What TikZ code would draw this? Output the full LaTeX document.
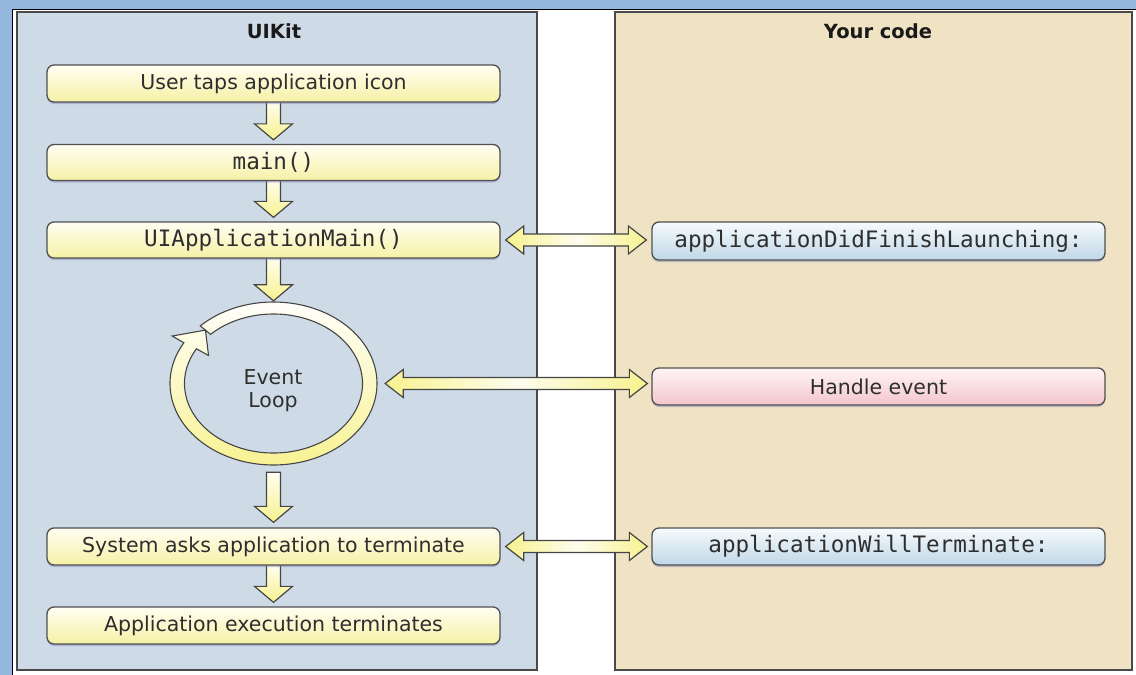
\documentclass[tikz,border=0pt]{standalone}
\usepackage{fontspec}
\setmainfont{DejaVu Sans}
\setmonofont{DejaVu Sans Mono}
\usetikzlibrary{calc,shadows,shapes.geometric}

\definecolor{frameblue}{HTML}{93B7DD}
\definecolor{kitfill}{HTML}{CEDBE7}
\definecolor{codefill}{HTML}{EFE3C3}
\definecolor{panelline}{HTML}{4A4A4A}
\definecolor{boxline}{HTML}{505050}
\definecolor{arrowline}{HTML}{454545}
\definecolor{ink}{HTML}{2E2E2E}
\definecolor{paleyellow}{HTML}{F6F1A6}
\definecolor{lightyellow}{HTML}{FFFEF2}
\definecolor{paleblue}{HTML}{BFD7E7}
\definecolor{lightblue}{HTML}{F7FBFD}
\definecolor{palepink}{HTML}{F3C6CC}
\definecolor{lightpink}{HTML}{FFF4F5}
\definecolor{arrowyellow}{HTML}{F7F28E}
\definecolor{shadowviolet}{HTML}{8080B8}

\pgfdeclarelayer{back}
\pgfdeclarelayer{arrows}
\pgfsetlayers{back,arrows,main}

\tikzset{
  panel/.style={draw=panelline, line width=2.5pt, inner sep=0pt},
  title/.style={font=\fontsize{19.5}{22}\selectfont\bfseries, text=black!90},
  stepbox/.style={draw=boxline, line width=1.3pt, rounded corners=7pt,
    minimum width=453pt, minimum height=37pt, inner sep=0pt, text=ink,
    font=\fontsize{20.5}{24}\selectfont,
    drop shadow={shadow xshift=0pt, shadow yshift=-2pt, fill=shadowviolet, opacity=0.45}},
  yellowbox/.style={stepbox, top color=lightyellow, bottom color=paleyellow},
  bluebox/.style={stepbox, top color=lightblue, bottom color=paleblue},
  pinkbox/.style={stepbox, top color=lightpink, bottom color=palepink},
  codetext/.style={font=\ttfamily\fontsize{22.6}{26}\selectfont},
  blockarrow/.style={draw=arrowline, line width=1.2pt, line join=miter},
}

% vertical block arrow: from, to, gap below start, gap above end
\newcommand\vblock[4]{%
  \path[blockarrow, top color=lightyellow, bottom color=arrowyellow]
    let \p1=(#1), \p2=(#2) in
    (\x1-7,\y1-#3) -- (\x1+7,\y1-#3) -- (\x1+7,\y2+#4+16) -- (\x1+19,\y2+#4+16)
    -- (\x1,\y2+#4) -- (\x1-19,\y2+#4+16) -- (\x1-7,\y2+#4+16) -- cycle;}

% horizontal double block arrow: from, to, gap at start, gap at end
\newcommand\hblock[4]{%
  \path[blockarrow, left color=arrowyellow, right color=arrowyellow, middle color=white!85!arrowyellow]
    let \p1=(#1), \p2=(#2) in
    (\x1+#3,\y1) -- (\x1+#3+18,\y1+14) -- (\x1+#3+18,\y1+6) -- (\x2-#4-18,\y1+6)
    -- (\x2-#4-18,\y1+14) -- (\x2-#4,\y1) -- (\x2-#4-18,\y1-14) -- (\x2-#4-18,\y1-6)
    -- (\x1+#3+18,\y1-6) -- (\x1+#3+18,\y1-14) -- cycle;}

\begin{document}
\begin{tikzpicture}[x=1pt, y=1pt]
\useasboundingbox (0,0) rectangle (1136,-675);

\begin{pgfonlayer}{back}
% window frame
\fill[frameblue] (0,0) rectangle (1136,-675);
\fill[white] (12.5,-9.5) rectangle (1136,-675);
\draw[black, line width=1.8pt] (12.5,-675) -- (12.5,-9.5) -- (1136,-9.5);
% the two panels
\node (uikit) [panel, fill=kitfill, minimum width=520pt, minimum height=658pt] at (277,-341) {};
\node (yourcode) [panel, fill=codefill, minimum width=517pt, minimum height=658pt] at (873.5,-341) {};
\end{pgfonlayer}
\node (kittitle) [title] at (274,-31) {UIKit};
\node (codetitle) [title] at (878,-31) {Your code};

% UIKit steps
\node (tap) [yellowbox] at (273.5,-83.5) {User taps application icon};
\node (mainfn) [yellowbox, codetext, minimum height=36pt] at (273.5,-162.5) {main()};
\node (appmain) [yellowbox, codetext, minimum height=36pt] at (273.5,-240) {UIApplicationMain()};
\node (askterm) [yellowbox] at (273.5,-546.5) {System asks application to terminate};
\node (exitapp) [yellowbox] at (273.5,-625.5) {Application execution terminates};

% your code
\node (didfinish) [bluebox, codetext, minimum height=38pt] at (878.5,-241) {applicationDidFinishLaunching:};
\node (handle) [pinkbox] at (878.5,-386.5) {Handle event};
\node (willterm) [bluebox, codetext] at (878.5,-546.5) {applicationWillTerminate:};

% event loop ring
\node (loop) [ellipse, minimum width=207pt, minimum height=163pt, inner sep=0pt] at (273.5,-383.5) {};
\path[draw=arrowline, line width=1.1pt, line join=miter, top color=white, bottom color=arrowyellow]
  ($(loop.center)+(135:103.5pt and 81.5pt)$)
  arc[start angle=135, end angle=-210, x radius=103.5pt, y radius=81.5pt]
  -- ($(loop.center)+(150:117pt and 95pt)$)
  -- ($(loop.center)+(135:96.25pt and 75.5pt)$)
  -- ($(loop.center)+(150:75pt and 56pt)$)
  -- ($(loop.center)+(150:89pt and 69.5pt)$)
  arc[start angle=-210, end angle=135, x radius=89pt, y radius=69.5pt]
  -- cycle;
\node (looptext) [align=center, text=ink, font=\fontsize{20.5}{23}\selectfont] at (273,-391) {Event\\Loop};

% flow arrows
\begin{pgfonlayer}{arrows}
\vblock{tap.south}{mainfn.north}{-2}{4}
\vblock{mainfn.south}{appmain.north}{-2}{4}
\vblock{appmain.south}{loop.north}{-2}{1}
\vblock{loop.south}{askterm.north}{7}{5}
\vblock{askterm.south}{exitapp.north}{-2}{4}
\end{pgfonlayer}

% calls between UIKit and your code
\hblock{appmain.east}{didfinish.west}{5}{5}
\hblock{loop.east}{handle.west}{8}{4}
\hblock{askterm.east}{willterm.west}{5}{4}
\end{tikzpicture}
\end{document}
